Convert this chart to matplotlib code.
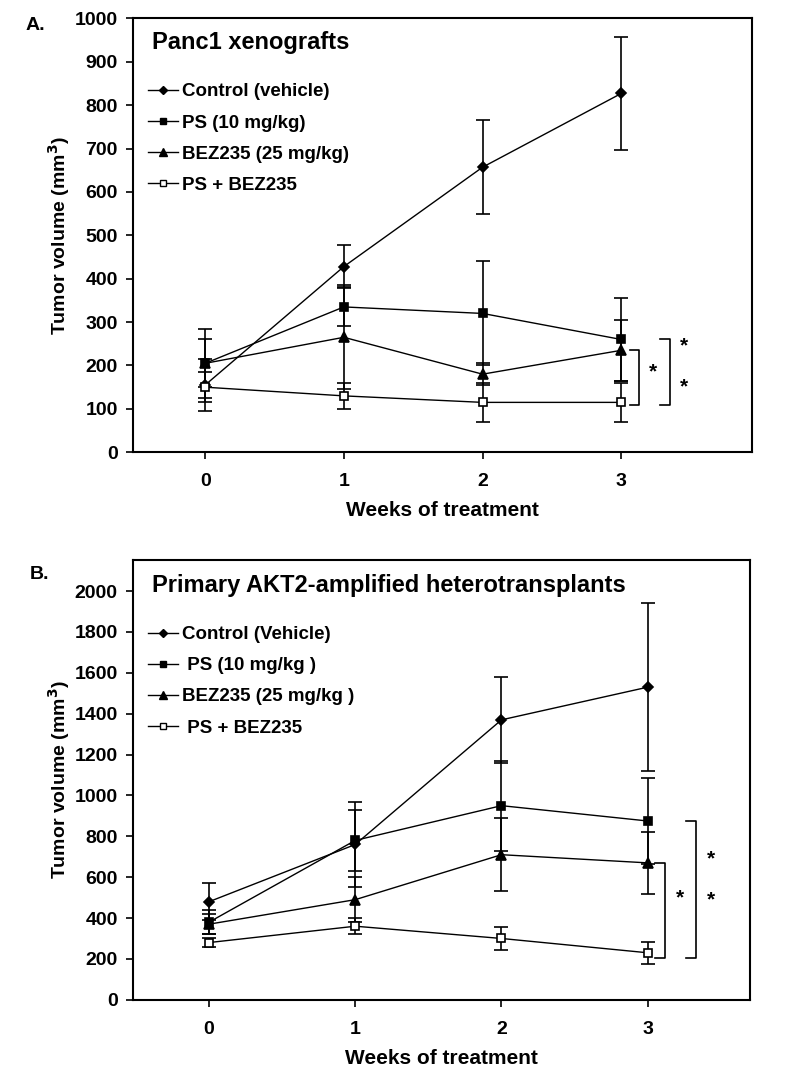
import matplotlib
matplotlib.use("Agg")
import matplotlib.pyplot as plt
from matplotlib.lines import Line2D

plt.rcParams["font.family"] = ["Liberation Sans", "DejaVu Sans"]
plt.rcParams["font.weight"] = "bold"

weeks = [0, 1, 2, 3]
series_labels_a = ["Control (vehicle)", "PS (10 mg/kg)", "BEZ235 (25 mg/kg)", "PS + BEZ235"]
series_labels_b = ["Control (Vehicle)", " PS (10 mg/kg )", "BEZ235 (25 mg/kg )", " PS + BEZ235"]
markers = ["D", "s", "^", "s"]
marker_sizes = [5, 6, 7, 6]
filled = [True, True, True, False]

# Panel A: Panc1 xenografts
a_mean = [
    [155, 428, 657, 827],
    [205, 335, 320, 260],
    [205, 265, 180, 235],
    [150, 130, 115, 115],
]
a_err = [
    [60, 50, 108, 130],
    [80, 45, 120, 95],
    [55, 120, 25, 70],
    [35, 30, 45, 45],
]
# significance brackets: (top, bottom, x position, star y values)
a_brackets = [(235, 110, 3.13, [185]), (260, 110, 3.35, [245, 150])]

# Panel B: primary AKT2-amplified heterotransplants
b_mean = [
    [480, 760, 1370, 1530],
    [380, 780, 950, 875],
    [370, 490, 710, 670],
    [280, 360, 300, 230],
]
b_err = [
    [90, 210, 210, 410],
    [60, 150, 220, 210],
    [50, 110, 180, 150],
    [20, 40, 55, 55],
]
b_brackets = [(670, 205, 3.12, [500]), (875, 205, 3.33, [690, 490])]


def draw_panel(ax, means, errs, labels, brackets, ylim, yticks, title, xlim):
    handles = []
    for m, e, mk, ms, f, lab in zip(means, errs, markers, marker_sizes, filled, labels):
        face = "black" if f else "white"
        ax.errorbar(weeks, m, yerr=e, color="black", lw=1.0, elinewidth=1.2,
                    capsize=5, capthick=1.2, marker=mk, ms=ms,
                    mfc=face, mec="black", mew=1.2)
        handles.append(Line2D([], [], color="black", lw=1.0, marker=mk,
                              ms=ms - 1, mfc=face, mec="black", mew=1.0,
                              label=lab))
    for top, bot, xb, stars in brackets:
        w = 0.07
        ax.plot([xb - w, xb, xb, xb - w], [top, top, bot, bot], color="black",
                lw=1.2, clip_on=False)
        for s in stars:
            ax.text(xb + 0.1, s, "*", ha="center", va="center", fontsize=15,
                    fontweight="bold")
    ax.set_xlim(*xlim)
    ax.set_ylim(*ylim)
    ax.set_xticks(weeks)
    ax.set_yticks(yticks)
    ax.tick_params(axis="both", labelsize=14, width=1.2, length=5, pad=6)
    ax.tick_params(axis="x", pad=10)
    for sp in ax.spines.values():
        sp.set_linewidth(1.5)
    ax.set_xlabel("Weeks of treatment", fontsize=15, fontweight="bold", labelpad=8)
    ax.set_ylabel("Tumor volume (mm$^\\mathbf{3}$)", fontsize=14, fontweight="bold",
                  labelpad=2)
    ax.text(0.03, 0.97, title, transform=ax.transAxes, fontsize=17,
            fontweight="bold", va="top", ha="left")
    ax.legend(handles=handles, loc="upper left", bbox_to_anchor=(0.0, 0.885),
              frameon=False, fontsize=13.5, handlelength=1.6,
              handletextpad=0.2, labelspacing=0.75, borderaxespad=0.4)


fig = plt.figure(figsize=(7.92, 10.82), dpi=100)
ax_a = fig.add_axes([0.168, 0.582, 0.781, 0.401])
ax_b = fig.add_axes([0.168, 0.076, 0.779, 0.406])

draw_panel(ax_a, a_mean, a_err, series_labels_a, a_brackets, (0, 1000),
           range(0, 1001, 100), "Panc1 xenografts", (-0.52, 3.94))
draw_panel(ax_b, b_mean, b_err, series_labels_b, b_brackets, (0, 2150),
           range(0, 2001, 200), "Primary AKT2-amplified heterotransplants", (-0.52, 3.7))

fig.text(0.032, 0.972, "A.", fontsize=14, fontweight="bold")
fig.text(0.038, 0.465, "B.", fontsize=14, fontweight="bold")

fig.savefig("out.png", dpi=100)
